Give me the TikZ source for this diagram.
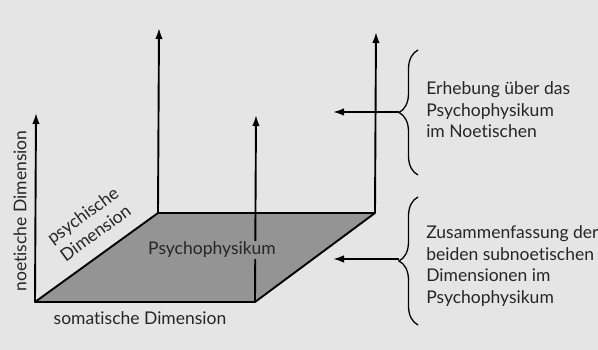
\documentclass[tikz,border=0pt]{standalone}
\usepackage{fontspec}
\setmainfont{Lato}[Ligatures=CommonOff]
\usetikzlibrary{positioning,arrows.meta,decorations.pathreplacing}

\begin{document}
\begin{tikzpicture}[x=1pt, y=1pt, line width=1.9pt, >={Latex[length=11pt,width=7.5pt]},
    lbl/.style={text=black!85, font=\fontsize{17.5}{21.5}\selectfont}]
            % page background
            \fill[black!10] (0,0) rectangle (598,350);
            \useasboundingbox (0,0) rectangle (598,350);

            %% Plane (Psychophysikum)
            \coordinate (plane_sw) at (35,48);
            \coordinate (plane_se) at (255,48);
            \coordinate (plane_nw) at (158,137);
            \coordinate (plane_ne) at (375,137);
            \fill[black!42] (plane_sw) -- (plane_se) -- (plane_ne) -- (plane_nw) -- cycle;
            \draw[line join=round] (plane_sw) -- (plane_se) -- (plane_ne) -- (plane_nw) -- cycle;

            %% Vertical arrows (noetic dimension)
            \coordinate (noetic_top) at (36,237);
            \coordinate (nw_top) at (159,322);
            \coordinate (se_top) at (256,235);
            \coordinate (ne_top) at (376,318);
            \draw[->] (plane_sw) -- (noetic_top);
            \draw[->] (plane_nw) -- (nw_top);
            \draw[->] (plane_se) -- (se_top);
            \draw[->] (plane_ne) -- (ne_top);

            % labels of the axes
            \node[lbl, fill=black!42, inner sep=1pt] (psycho) at (212,100) {Psychophysikum};
            \node[lbl] (soma) at (140,32) {somatische Dimension};
            \node[lbl, rotate=90] (noetic) at (20,139) {noetische Dimension};
            \node[lbl, rotate=36, align=center] (psychic) at (89,126) {psychische\\Dimension};

            %% Braces on the right
            % upper brace: Erhebung
            \coordinate (brace_up_bot) at (418,175);
            \coordinate (brace_up_top) at (418,300);
            \coordinate (brace_up_tip) at (399,238);
            \coordinate (arrow_up_end) at (333,238);
            \draw[line width=1.3pt, decorate, decoration={brace, amplitude=19pt}] (brace_up_bot) -- (brace_up_top);
            \draw[->] (brace_up_tip) -- (arrow_up_end);
            \node[lbl, anchor=west, align=left] (erhebung) at (422,240) {Erhebung über das\\Psychophysikum\\im Noetischen};

            % lower brace: Zusammenfassung
            \coordinate (brace_lo_bot) at (418,25);
            \coordinate (brace_lo_top) at (418,153);
            \coordinate (brace_lo_tip) at (399,91);
            \coordinate (arrow_lo_end) at (333,91);
            \draw[line width=1.3pt, decorate, decoration={brace, amplitude=19pt}] (brace_lo_bot) -- (brace_lo_top);
            \draw[->] (brace_lo_tip) -- (arrow_lo_end);
            \node[lbl, anchor=west, align=left] (zusammen) at (422,84) {Zusammenfassung der\\beiden subnoetischen\\Dimensionen im\\Psychophysikum};

\end{tikzpicture}
\end{document}
